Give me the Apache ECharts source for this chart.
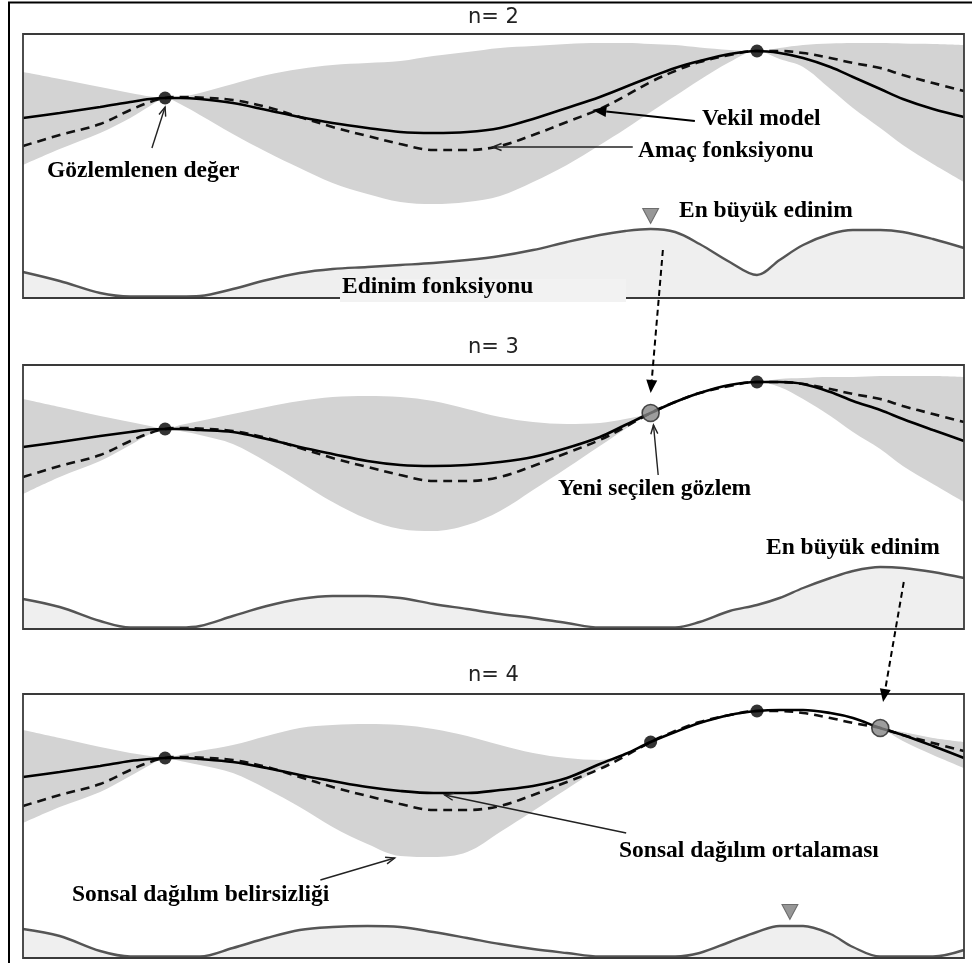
<!DOCTYPE html>
<html><head><meta charset="utf-8">
<script src="https://cdn.jsdelivr.net/npm/echarts@6/dist/echarts.min.js"></script>
<style>html,body{margin:0;padding:0;background:#fff}#c{width:972px;height:963px}</style>
</head><body><div id="c"></div>
<script>
// shared x sample positions (domain 0..10)
const xs = [0.00,0.39,0.82,1.14,1.35,1.51,1.67,1.88,2.23,2.59,2.94,3.29,3.66,4.01,4.36,4.72,5.07,5.42,5.78,6.13,6.40,6.67,6.93,7.19,7.51,7.80,8.04,8.29,8.58,8.82,9.11,9.35,9.67,10.00];
// true objective function (dashed), same in every panel
const objective = [152,163,174,188,196,200,201,200.5,198,191,181,171,162,154,148,148,152,163,176,189,202,216,227,236,243,247,247,245,240,235,230,223,215,207];

// n = 2
const mean1  = [180,185,191,196,199,200,200,199,195,188,181,175,170,166,165,166,170,179,190,201,211,221,230,237,244,247,245,240,231,221,209,199,189,181];
const upper1 = [226,219,211,205,201.5,200,201,205,214,223,229,233,235,237,242,246,250,252,254,255,255,254,253,250.5,248,247,250,253,254.5,255,255,254.5,254,253];
const lower1 = [133,149,165,180,192,200,194,183,164,146,130,115,104,96,94,96,102,116,133,153,169,186,202,218,236,247,239,231,209,190,170,153,134,116];
const acq1   = [26,17,5,1.5,1.5,1.5,1.5,2,9,18,25,29,31,33,35,38,42,48,56,63,67,69,66,54,36,23,38,53,64,68,68,66,59,50];
const obs1 = [[1.51,200],[7.80,247]];
const new1 = [];
const tri1 = [[6.67,82]];

// n = 3
const mean2  = [182,187,193,197,199.5,200,200,199,197,190,182,175,168,164,163,164,167,172,181,192,204,216,227,236,244,247,247,245,237,228,219,210,199,188];
const upper2 = [230,222,213,207,203,200,204,208,215,222,228,232,233,232,228,220,212,207,205,206,210,216,228,237,245,247,250,251,252,252,253,253,253,252];
const lower2 = [135,152,168,184,195,200,198,194,185,167,147,127,110,100,98,104,118,139,161,183,200,216,226,235,243,247,242,230,213,197,180,163,145,127];
const acq2   = [30,22,8,1.5,1.5,1.5,1.5,3,13,23,30,33,33,31,25,20,15,11,6,1.5,1.5,1.5,1.5,7,18,24,31,41,51,58,62,61,57,51];
const obs2 = [[1.51,200],[7.80,247]];
const new2 = [[6.67,216]];
const tri2 = [];

// n = 4
const mean3  = [181,186,192,197,199,200,200,199,196,190,183,177,171,167,165,165,168,172,180,194,204,216,226,235,243,247,248,248,245,240,230,223,212,200];
const upper3 = [228,220,211,205,202,200,203,207,213,222,230,233,234,233,229,222,213,205,200,198,205,216,227,236,244,247,249,249,246,241,230,226,220,216];
const lower3 = [135,151,166,182,193,200,197,193,185,169,151,131,114,102,101,106,126,147,169,190,203,216,225,234,242,247,247,247,244,239,230,217,203,190];
const acq3   = [29,22,7,1.5,1.5,1.5,1.5,1.5,10,20,28,31,32,31,26,20,14,9,5,1.5,1.5,1.5,1.5,5,16,26,32,32,24,11,1.5,1.5,1.5,8];
const obs3 = [[1.51,200],[6.67,216],[7.80,247]];
const new3 = [[9.11,230]];
const tri3 = [[8.15,46]];

const titles = ['n= 2','n= 3','n= 4'];

const panels = [
  {mean:mean1, upper:upper1, lower:lower1, acq:acq1, obs:obs1, nw:new1, tri:tri1},
  {mean:mean2, upper:upper2, lower:lower2, acq:acq2, obs:obs2, nw:new2, tri:tri2},
  {mean:mean3, upper:upper3, lower:lower3, acq:acq3, obs:obs3, nw:new3, tri:tri3}
];
const tops = [34,365,694];

const chart = echarts.init(document.getElementById('c'), null, {renderer:'canvas'});
const pair = a => xs.map((x,k)=>[x,a[k]]);
const SM = 0.35;

const series = [];
panels.forEach((p,i)=>{
  const ax = {xAxisIndex:i, yAxisIndex:i};
  // uncertainty band: grey area under the upper bound, then white area under the lower bound
  series.push(Object.assign({type:'line', data:pair(p.upper), smooth:SM, symbol:'none', silent:true,
    lineStyle:{opacity:0, width:0}, areaStyle:{color:'#d3d3d3', opacity:1}, z:1}, ax));
  series.push(Object.assign({type:'line', data:pair(p.lower), smooth:SM, symbol:'none', silent:true,
    lineStyle:{opacity:0, width:0}, areaStyle:{color:'#ffffff', opacity:1}, z:1}, ax));
  // acquisition function
  series.push(Object.assign({type:'line', data:pair(p.acq), smooth:SM, symbol:'none', silent:true,
    lineStyle:{color:'#555', width:2.4}, areaStyle:{color:'#efefef', opacity:1}, z:2}, ax));
  series.push(Object.assign({type:'line', data:pair(objective), smooth:SM, symbol:'none', silent:true,
    lineStyle:{color:'#111', width:2.6, type:[9,6]}, z:3}, ax));
  series.push(Object.assign({type:'line', data:pair(p.mean), smooth:SM, symbol:'none', silent:true,
    lineStyle:{color:'#000', width:2.6}, z:4}, ax));
  series.push(Object.assign({type:'scatter', data:p.obs, symbolSize:13, silent:true,
    itemStyle:{color:'#000'}, z:5}, ax));
  series.push(Object.assign({type:'scatter', data:p.nw, symbolSize:17, silent:true,
    itemStyle:{color:'#858585', borderColor:'#222', borderWidth:1.6}, z:5}, ax));
  series.push(Object.assign({type:'scatter', data:p.tri, symbol:'triangle', symbolRotate:180, symbolSize:[16,15], silent:true,
    itemStyle:{color:'#7d7d7d', borderColor:'#555', borderWidth:1}, z:5}, ax));
});

chart.setOption({
  animation:false,
  grid: tops.map(t=>({left:23, top:t, width:941, height:264, show:false})),
  xAxis: tops.map((t,i)=>({type:'value', gridIndex:i, min:0, max:10, show:false})),
  yAxis: tops.map((t,i)=>({type:'value', gridIndex:i, min:0, max:264, show:false})),
  series: series
});

function px(i, x, y){ return chart.convertToPixel({gridIndex:i}, [x,y]); }
function arrow(p0, p1, o){
  o = o || {};
  const width=o.width||1.4, color=o.color||'#222', head=o.head||9, headW=o.headW||7;
  const dx=p1[0]-p0[0], dy=p1[1]-p0[1], L=Math.hypot(dx,dy), ux=dx/L, uy=dy/L;
  const bx=p1[0]-ux*head, by=p1[1]-uy*head, nx=-uy, ny=ux;
  const l=[bx+nx*headW/2, by+ny*headW/2], r=[bx-nx*headW/2, by-ny*headW/2];
  const end = o.filled ? [bx,by] : p1;
  const els=[{type:'line', z:100, shape:{x1:p0[0],y1:p0[1],x2:end[0],y2:end[1]}, style:{stroke:color, lineWidth:width, lineDash:o.dash||null}}];
  if(o.filled) els.push({type:'polygon', z:100, shape:{points:[p1,l,r]}, style:{fill:color}});
  else els.push({type:'polyline', z:100, shape:{points:[l,p1,r]}, style:{stroke:color, lineWidth:width, fill:null}});
  return els;
}
const LF = 'bold 23.5px "Liberation Serif", "Times New Roman", serif';
function label(t, x, base){ return {type:'text', z:101, x:x, y:base-8, style:{text:t, font:LF, fill:'#000', align:'left', verticalAlign:'middle'}}; }
function title(t, base){ return {type:'text', z:101, x:493.5, y:base-7, style:{text:t, font:'21px "DejaVu Sans", sans-serif', fill:'#222', align:'center', verticalAlign:'middle'}}; }

let g = [];
// panel frames
[0,1,2].forEach(i=>{
  const a = px(i,0,264), b = px(i,10,0);
  g.push({type:'rect', z:50, shape:{x:a[0], y:a[1], width:b[0]-a[0], height:b[1]-a[1]}, style:{stroke:'#3a3a3a', lineWidth:1.8, fill:null}});
});
g.push({type:'polyline', z:100, shape:{points:[[9,963],[9,2.5],[972,2.5]]}, style:{stroke:'#000', lineWidth:2, fill:null}});
g.push(title(titles[0], 25), title(titles[1], 355), title(titles[2], 683));
// panel 1 annotations
g = g.concat(arrow(px(0,1.37,150), px(0,1.51,191)));
g = g.concat(arrow(px(0,7.14,177), px(0,6.05,188), {filled:true, head:14, headW:11, width:1.8, color:'#000'}));
g = g.concat(arrow(px(0,6.48,151), px(0,4.99,151)));
g.push(label('Gözlemlenen değer', 47, 179));
g.push(label('Vekil model', 702, 127));
g.push(label('Amaç fonksiyonu', 638, 159));
g.push(label('En büyük edinim', 679, 219));
g.push({type:'rect', z:99, shape:{x:340, y:279, width:286, height:23}, style:{fill:'#f2f2f2'}});
g.push(label('Edinim fonksiyonu', 342, 295));
// dashed arrow n=2 -> n=3
g = g.concat(arrow(px(0,6.80,48), px(1,6.67,236), {filled:true, dash:[6,4], width:2, head:13, headW:11, color:'#000'}));
// panel 2 annotations
g = g.concat(arrow(px(1,6.75,154), px(1,6.70,204)));
g.push(label('Yeni seçilen gözlem', 558, 497));
g.push(label('En büyük edinim', 766, 556));
// dashed arrow n=3 -> n=4
g = g.concat(arrow(px(1,9.36,47), px(2,9.14,256), {filled:true, dash:[6,4], width:2, head:13, headW:11, color:'#000'}));
// panel 3 annotations
g = g.concat(arrow(px(2,6.41,125), px(2,4.48,163)));
g = g.concat(arrow(px(2,3.16,78), px(2,3.95,100)));
g.push(label('Sonsal dağılım ortalaması', 619, 859));
g.push(label('Sonsal dağılım belirsizliği', 72, 903));

chart.setOption({graphic: g});
</script></body></html>
